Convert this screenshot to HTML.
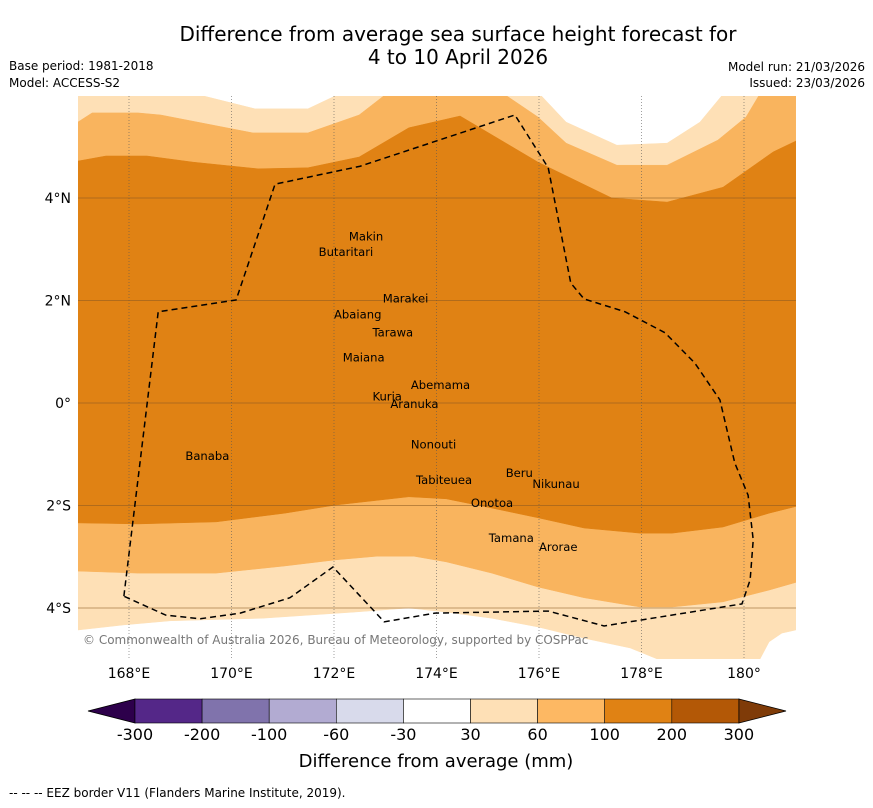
<!DOCTYPE html>
<html><head><meta charset="utf-8">
<style>
body{margin:0;background:#fff;font-family:"DejaVu Sans","Liberation Sans",sans-serif;}
svg text{font-family:"DejaVu Sans","Liberation Sans",sans-serif;}
</style></head>
<body>
<svg id="chart" width="873" height="804" viewBox="0 0 873 804" xmlns="http://www.w3.org/2000/svg">
<text x="458" y="41" font-size="20" text-anchor="middle">Difference from average sea surface height forecast for</text>
<text x="458" y="64" font-size="20" text-anchor="middle">4 to 10 April 2026</text>
<text x="9" y="70" font-size="12">Base period: 1981-2018</text>
<text x="9" y="87" font-size="12">Model: ACCESS-S2</text>
<text x="865" y="71" font-size="12" text-anchor="end">Model run: 21/03/2026</text>
<text x="865" y="87" font-size="12" text-anchor="end">Issued: 23/03/2026</text>
<g id="map"></g>
<g id="cbar"></g>
<text x="436" y="767" font-size="18" text-anchor="middle">Difference from average (mm)</text>
<text x="9" y="797" font-size="12">--  --  -- EEZ border V11 (Flanders Marine Institute, 2019).</text>
</svg>
<script>
// ---- data ----
const lonTicks=[168,170,172,174,176,178,180];
const lonTickLabels=["168°E","170°E","172°E","174°E","176°E","178°E","180°"];
const latTicks=[4,2,0,-2,-4];
const latTickLabels=["4°N","2°N","0°","2°S","4°S"];
// contour boundaries [lon, lat]
const lightTop=[[167,6],[169.42,6],[170.46,5.74],[171.49,5.74],[172.04,6],[176.04,6],[176.53,5.48],[177.52,5.03],[178.5,5.07],[179.14,5.48],[179.57,6],[181.01,6]];
const lightBottom=[[167,-4.43],[167.9,-4.33],[168.8,-4.25],[170.6,-4.2],[172.39,-4.08],[173.46,-4.0],[174.19,-4.08],[175.08,-4.2],[175.98,-4.37],[176.88,-4.59],[177.78,-4.78],[178.32,-5.0],[180.31,-5.0],[180.49,-4.66],[180.74,-4.49],[181.01,-4.43]];
const midTop=[[167,5.48],[167.28,5.66],[168.18,5.66],[168.62,5.62],[170.42,5.27],[171.49,5.27],[172.49,5.62],[172.98,6],[175.36,6],[175.98,5.58],[176.53,5.07],[177.52,4.64],[178.5,4.64],[179.49,5.13],[180.04,5.58],[180.29,6],[181.01,6]];
const midBottom=[[167,-3.28],[168.18,-3.32],[169.7,-3.32],[171.04,-3.18],[172.04,-3.06],[172.84,-2.99],[173.56,-2.99],[174.19,-3.1],[175.08,-3.32],[175.98,-3.59],[176.88,-3.8],[177.97,-3.98],[178.6,-3.98],[179.59,-3.88],[180.49,-3.65],[181.05,-3.49]];
const darkTop=[[167,4.72],[167.55,4.82],[168.35,4.82],[169.25,4.7],[170.52,4.57],[171.49,4.59],[172.49,4.8],[173.46,5.37],[174.46,5.6],[175.98,4.7],[177.42,4.0],[178.5,3.92],[179.59,4.21],[180.57,4.9],[181.05,5.13]];
const darkBottom=[[167,-2.34],[168.18,-2.36],[169.7,-2.32],[171.04,-2.15],[172.04,-1.99],[173.46,-1.83],[174.19,-1.87],[175.08,-2.05],[175.98,-2.24],[176.88,-2.44],[177.97,-2.54],[178.6,-2.54],[179.59,-2.42],[180.49,-2.15],[181.05,-2.01]];
const eez=[[167.9,-3.77],[168.57,1.78],[170.09,2.01],[170.85,4.27],[172.51,4.62],[175.53,5.62],[176.18,4.59],[176.62,2.34],[176.88,2.03],[177.68,1.78],[178.46,1.37],[179.04,0.78],[179.53,0.06],[179.82,-1.17],[180.08,-1.8],[180.18,-2.67],[180.12,-3.45],[179.96,-3.92],[177.27,-4.35],[176.18,-4.06],[173.97,-4.1],[172.98,-4.27],[171.98,-3.2],[171.14,-3.8],[170.17,-4.1],[169.39,-4.21],[168.72,-4.14],[167.9,-3.77]];
const islandNames=["Makin","Butaritari","Marakei","Abaiang","Tarawa","Maiana","Abemama","Kuria","Aranuka","Banaba","Nonouti","Beru","Nikunau","Tabiteuea","Onotoa","Tamana","Arorae"];
const islandLon=[172.29,171.7,172.95,172.0,172.75,172.17,173.5,172.75,173.1,169.1,173.5,175.35,175.87,173.6,174.67,175.02,176.0];
const islandLat=[3.25,2.95,2.04,1.73,1.38,0.89,0.35,0.13,-0.02,-1.03,-0.81,-1.37,-1.58,-1.5,-1.95,-2.63,-2.81];
const cbLevels=["-300","-200","-100","-60","-30","30","60","100","200","300"];
const cbColors=["#542788","#8073ac","#b2abd2","#d8daeb","#ffffff","#fee0b6","#fdb863","#e08214","#b35806"];
const cbUnder="#2d004b", cbOver="#7f3b08";
// ---- axes ----
const X0=78,X1=796,Y0=96,Y1=659;
const xs=lon=>129+(lon-168)*51.25;
const ys=lat=>403-lat*51.25;
const NS="http://www.w3.org/2000/svg";
const map=document.getElementById('map');
function mk(tag,attrs,parent){const e=document.createElementNS(NS,tag);for(const k in attrs)e.setAttribute(k,attrs[k]);(parent||map).appendChild(e);return e;}
const clip=mk('clipPath',{id:'mclip'});mk('rect',{x:X0,y:Y0,width:X1-X0,height:Y1-Y0},clip);
const g=mk('g',{'clip-path':'url(#mclip)'});


function band(top,bot,color,name){
  const pts=top.map(p=>xs(p[0])+','+ys(p[1])).concat(bot.slice().reverse().map(p=>xs(p[0])+','+ys(p[1])));
  const p=mk('polygon',{points:pts.join(' '),fill:color,stroke:color,'stroke-width':0.5},g);
  
  
}
mk('rect',{x:X0,y:Y0,width:X1-X0,height:Y1-Y0,fill:'#fff'},g);
band(lightTop,lightBottom,'#fee0b6','band-30-60');
band(midTop,midBottom,'#f9b45e','band-60-100');
band(darkTop,darkBottom,'#e08214','band-100-200');
// grid
lonTicks.forEach((lon,i)=>{
  const l=mk('line',{x1:xs(lon),x2:xs(lon),y1:Y0,y2:Y1,stroke:'#555','stroke-width':0.8,'stroke-dasharray':'1,2','stroke-opacity':0.7});
  
  
  const t=mk('text',{x:xs(lon),y:678,'font-size':14,'text-anchor':'middle'});t.textContent=lonTickLabels[i];
  
  
});
latTicks.forEach((lat,i)=>{
  const l=mk('line',{x1:X0,x2:X1,y1:ys(lat),y2:ys(lat),stroke:'#8a5a20','stroke-width':1,'stroke-opacity':0.55});
  
  
  const t=mk('text',{x:71,y:ys(lat)+5,'font-size':14,'text-anchor':'end'});t.textContent=latTickLabels[i];
  
  
});
// EEZ
const ez=mk('polyline',{points:eez.map(p=>xs(p[0])+','+ys(p[1])).join(' '),fill:'none',stroke:'#000','stroke-width':1.5,'stroke-dasharray':'6,4'});


// islands
islandNames.forEach((n,i)=>{
  const t=mk('text',{x:xs(islandLon[i]),y:ys(islandLat[i])+4,'font-size':11.6,fill:'#000'});t.textContent=n;
  
  
});
const cr=mk('text',{x:83,y:644,'font-size':12,fill:'#777'});cr.textContent='© Commonwealth of Australia 2026, Bureau of Meteorology, supported by COSPPac';


// colorbar
const cb=document.getElementById('cbar');
const cx0=135,cw=67.1,cy=699,ch=24;
const tl=mk('polygon',{points:`${cx0},${cy} ${cx0},${cy+ch} 88,${cy+ch/2}`,fill:cbUnder,stroke:'#000','stroke-width':0.8},cb);


cbColors.forEach((c,i)=>{
  const r=mk('rect',{x:cx0+i*cw,y:cy,width:cw,height:ch,fill:c,stroke:'#000','stroke-width':0.6},cb);
  
  
});
const xe=cx0+cbColors.length*cw;
const tr=mk('polygon',{points:`${xe},${cy} ${xe},${cy+ch} 786,${cy+ch/2}`,fill:cbOver,stroke:'#000','stroke-width':0.8},cb);


cbLevels.forEach((v,i)=>{
  const t=mk('text',{x:cx0+i*cw,y:740,'font-size':16,'text-anchor':'middle'},cb);t.textContent=v;
  
  
});
</script>
</body></html>
